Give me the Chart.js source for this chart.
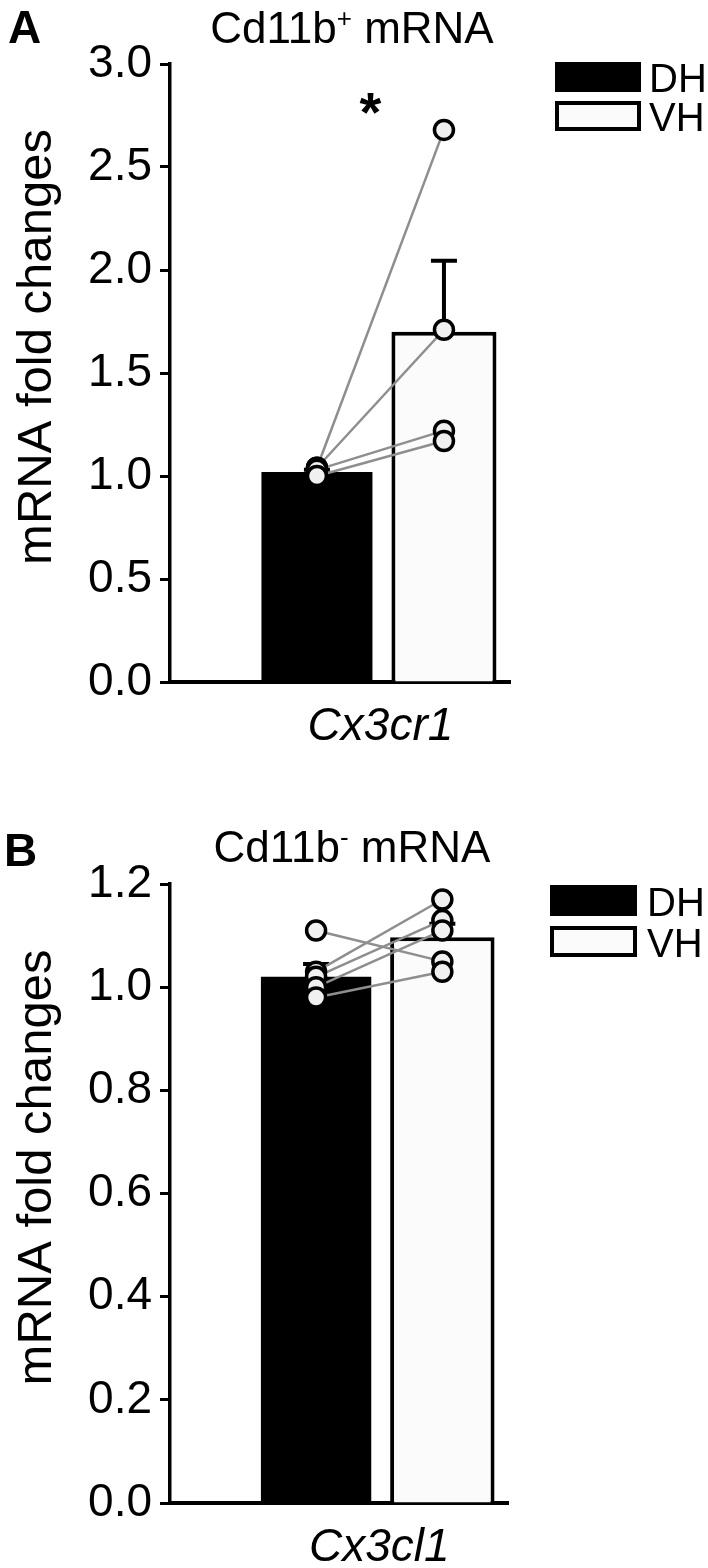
<!DOCTYPE html>
<html>
<head>
<meta charset="utf-8">
<script src="https://cdn.jsdelivr.net/npm/chart.js@4.4.0/dist/chart.umd.min.js"></script>
<style>
    html, body { margin: 0; padding: 0; background: #fff; }
    #wrap { position: relative; width: 708px; height: 1568px; }
    canvas { position: absolute; left: 0; }
    #panelA { top: 0; }
    #panelB { top: 819px; }
</style>
</head>
<body>
<div id="wrap">
    <canvas id="panelA" width="708" height="819"></canvas>
    <canvas id="panelB" width="708" height="749"></canvas>
</div>
<script>
// --- datos ---
const groups = ['DH', 'VH'];
const groupX = [1, 2];

// A) Cd11b+  -> Cx3cr1
const cx3cr1Mean = [1.02, 1.70];
const cx3cr1Sem = [0.01, 0.345];
const cx3cr1DH = [1.04, 1.04, 1.03, 1.00];
const cx3cr1VH = [2.68, 1.71, 1.22, 1.17];
const cx3cr1Ticks = [0, 0.5, 1.0, 1.5, 2.0, 2.5, 3.0];

// B) Cd11b-  -> Cx3cl1
const cx3cl1Mean = [1.02, 1.097];
const cx3cl1Sem = [0.025, 0.026];
const cx3cl1DH = [1.11, 1.03, 1.02, 1.00, 0.98];
const cx3cl1VH = [1.05, 1.17, 1.13, 1.11, 1.03];
const cx3cl1Ticks = [0, 0.2, 0.4, 0.6, 0.8, 1.0, 1.2];

const FONT = '"Liberation Sans", Arial, Helvetica, sans-serif';

// barras de error, leyenda, títulos y asterisco
const decor = {
    id: 'decor',
    beforeDatasetsDraw(chart, args, o) {
        const { ctx, scales: { x, y } } = chart;
        ctx.save();
        ctx.strokeStyle = '#000';
        ctx.lineWidth = 4;
        o.means.forEach((m, i) => {
            const px = x.getPixelForValue(groupX[i]);
            const top = y.getPixelForValue(m + o.sems[i]);
            const base = y.getPixelForValue(m);
            ctx.beginPath();
            ctx.moveTo(px, base);
            ctx.lineTo(px, top);
            ctx.moveTo(px - 13, top);
            ctx.lineTo(px + 13, top);
            ctx.stroke();
        });
        ctx.restore();
    },
    afterDraw(chart, args, o) {
        const { ctx, chartArea, scales: { x, y } } = chart;
        ctx.save();
        ctx.fillStyle = '#000';
        ctx.textBaseline = 'alphabetic';

        // letra del panel
        ctx.font = `bold 46px ${FONT}`;
        ctx.textAlign = 'left';
        ctx.fillText(o.letter, o.letterX, o.letterY);

        // título con superíndice
        const big = `44px ${FONT}`;
        const small = `26px ${FONT}`;
        ctx.font = big;
        const w1 = ctx.measureText(o.title[0]).width;
        const w3 = ctx.measureText(o.title[2]).width;
        ctx.font = small;
        const w2 = ctx.measureText(o.title[1]).width;
        let tx = o.titleX - (w1 + w2 + w3) / 2;
        ctx.font = big;
        ctx.fillText(o.title[0], tx, o.titleY);
        tx += w1;
        ctx.font = small;
        ctx.fillText(o.title[1], tx, o.titleY - 16);
        tx += w2;
        ctx.font = big;
        ctx.fillText(o.title[2], tx, o.titleY);

        // título eje Y
        ctx.save();
        ctx.translate(51, (chartArea.top + chartArea.bottom) / 2 - 26);
        ctx.rotate(-Math.PI / 2);
        ctx.textAlign = 'center';
        ctx.font = `49px ${FONT}`;
        ctx.fillText('mRNA fold changes', 0, 0);
        ctx.restore();

        // gen en el eje X
        ctx.textAlign = 'center';
        ctx.font = `italic 46px ${FONT}`;
        ctx.fillText(o.gene, x.getPixelForValue(1.5), chartArea.bottom + 58);

        // asterisco
        if (o.star) {
            ctx.font = `bold 56px ${FONT}`;
            const m = ctx.measureText('*');
            const yc = y.getPixelForValue(o.star.y);
            ctx.fillText('*', x.getPixelForValue(o.star.x), yc + (m.actualBoundingBoxAscent - m.actualBoundingBoxDescent) / 2);
        }

        // leyenda
        const L = o.legend;
        ctx.textAlign = 'left';
        ctx.font = `40px ${FONT}`;
        groups.forEach((g, i) => {
            const by = L.y[i];
            if (i === 0) {
                ctx.fillStyle = '#000';
                ctx.fillRect(L.x, by, L.w, L.h);
            } else {
                ctx.fillStyle = '#fbfbfb';
                ctx.fillRect(L.x, by, L.w, L.h);
                ctx.strokeStyle = '#000';
                ctx.lineWidth = 4;
                ctx.strokeRect(L.x + 2, by + 2, L.w - 4, L.h - 4);
            }
            ctx.fillStyle = '#000';
            ctx.fillText(g, L.tx, by + L.h);
        });
        ctx.restore();
    }
};

function crearPanel(canvasId, cfg) {
    const datasets = [];

    // líneas que unen DH y VH de cada muestra
    cfg.dh.forEach((v, i) => {
        datasets.push({
            type: 'line',
            data: [{ x: groupX[0], y: v }, { x: groupX[1], y: cfg.vh[i] }],
            borderColor: '#8e8e8e',
            borderWidth: 2.5,
            pointRadius: 0,
            order: 1
        });
    });

    // puntos individuales
    [cfg.dh, cfg.vh].forEach((serie, g) => {
        datasets.push({
            type: 'scatter',
            data: serie.map(v => ({ x: groupX[g], y: v })),
            pointRadius: 9.5,
            pointBorderWidth: 3.5,
            pointBackgroundColor: '#f0f0f0',
            pointBorderColor: '#000',
            showLine: false,
            order: 0
        });
    });

    // barras de medias
    datasets.push({
        type: 'bar',
        data: [{ x: groupX[0], y: cfg.mean[0] }],
        backgroundColor: '#000',
        borderWidth: 0,
        grouped: false,
        categoryPercentage: 1,
        barPercentage: 0.874,
        order: 2
    });
    datasets.push({
        type: 'bar',
        data: [{ x: groupX[1], y: cfg.mean[1] }],
        backgroundColor: '#fbfbfb',
        borderColor: '#000',
        borderWidth: 4,
        grouped: false,
        categoryPercentage: 1,
        barPercentage: 0.827,
        order: 2
    });

    return new Chart(document.getElementById(canvasId), {
        type: 'bar',
        data: { datasets: datasets },
        options: {
            responsive: false,
            animation: false,
            devicePixelRatio: 1,
            events: [],
            layout: {
                padding: { top: cfg.top, right: 708 - cfg.right, bottom: 0, left: 0 }
            },
            plugins: {
                legend: { display: false },
                tooltip: { enabled: false },
                decor: cfg.decor
            },
            scales: {
                x: {
                    type: 'linear',
                    offset: false,
                    min: -0.157,
                    max: 2.52,
                    afterBuildTicks: s => { s.ticks = groupX.map(v => ({ value: v })); },
                    afterFit: s => { s.height = cfg.canvasH - cfg.bottom; },
                    ticks: { display: false },
                    grid: { display: false },
                    border: { display: true, color: '#000', width: 4 }
                },
                y: {
                    min: 0,
                    max: cfg.ticks[cfg.ticks.length - 1],
                    afterBuildTicks: s => { s.ticks = cfg.ticks.map(v => ({ value: v })); },
                    afterFit: s => { s.width = 170; },
                    ticks: {
                        padding: 8,
                        color: '#000',
                        font: { family: FONT, size: 46 },
                        callback: v => v.toFixed(1)
                    },
                    grid: {
                        display: true,
                        drawOnChartArea: false,
                        drawTicks: true,
                        tickLength: 10,
                        tickWidth: 3,
                        tickColor: '#000'
                    },
                    border: { display: true, color: '#000', width: 3.5 }
                }
            }
        },
        plugins: [decor]
    });
}

crearPanel('panelA', {
    dh: cx3cr1DH, vh: cx3cr1VH, mean: cx3cr1Mean, ticks: cx3cr1Ticks,
    canvasH: 819, top: 64, bottom: 682, right: 510,
    decor: {
        means: cx3cr1Mean, sems: cx3cr1Sem,
        letter: 'A', letterX: 8, letterY: 43,
        title: ['Cd11b', '+', ' mRNA'], titleX: 352, titleY: 43,
        gene: 'Cx3cr1',
        star: { x: 1.42, y: 2.81 },
        legend: { x: 555, y: [62, 101], w: 86, h: 30, tx: 649 }
    }
});

crearPanel('panelB', {
    dh: cx3cl1DH, vh: cx3cl1VH, mean: cx3cl1Mean, ticks: cx3cl1Ticks,
    canvasH: 749, top: 65, bottom: 684, right: 508,
    decor: {
        means: cx3cl1Mean, sems: cx3cl1Sem,
        letter: 'B', letterX: 4, letterY: 47,
        title: ['Cd11b', '-', ' mRNA'], titleX: 352, titleY: 43,
        gene: 'Cx3cl1',
        star: null,
        legend: { x: 550, y: [66, 107], w: 87, h: 31, tx: 647 }
    }
});
</script>
</body>
</html>
